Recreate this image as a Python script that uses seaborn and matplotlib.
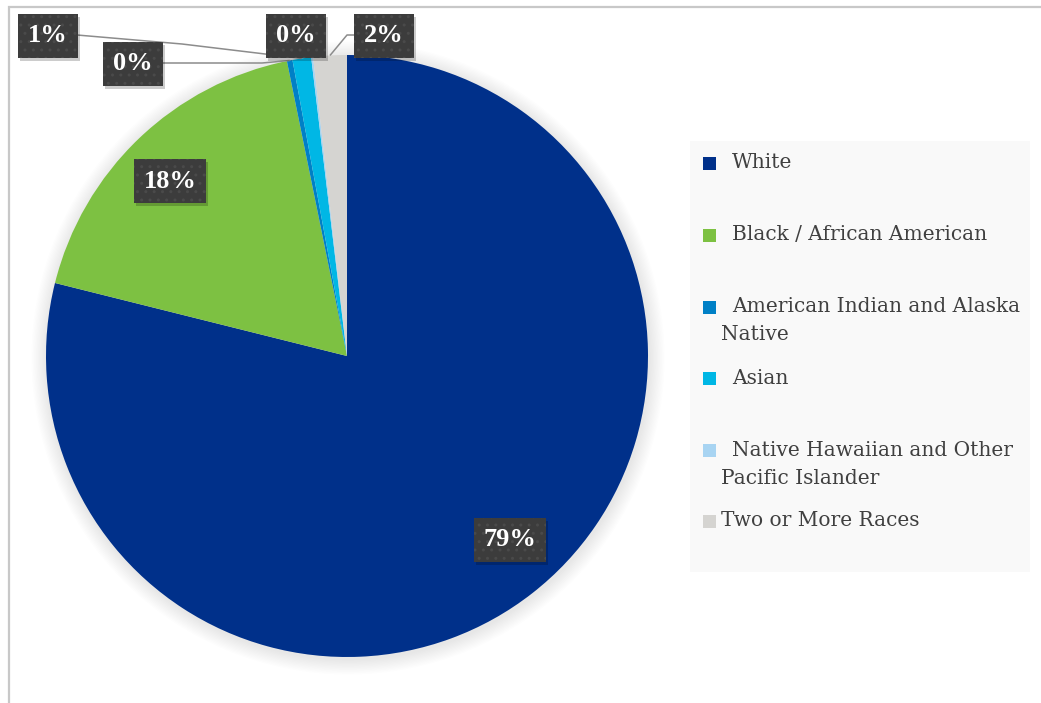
import matplotlib
matplotlib.use("Agg")
import matplotlib.pyplot as plt
import matplotlib.patches as mpatches
import numpy as np
import seaborn as sns

# Population share by race (percent)
categories = [
    "White",
    "Black / African American",
    "American Indian and Alaska\nNative",
    "Asian",
    "Native Hawaiian and Other\nPacific Islander",
    "Two or More Races",
]
shares = [78.9, 17.9, 0.3, 1.0, 0.1, 1.8]
slice_colors = ["#00308A", "#7DC142", "#0080C6", "#00B7E5", "#A8D4F2", "#D5D4D1"]
label_texts = ["79%", "18%", "0%", "1%", "0%", "2%"]

sns.set_theme(style="white")
plt.rcParams["font.family"] = ["DejaVu Serif"]

W, H = 1041, 703
fig = plt.figure(figsize=(W / 100, H / 100), dpi=100)
fig.patch.set_facecolor("white")
ax = fig.add_axes([0, 0, 1, 1])


def py(y):
    """Convert a top-down pixel row into axes data units."""
    return H - y


cx, cy, R = 347, py(356), 301

wedges, _ = ax.pie(shares, colors=slice_colors, startangle=90, counterclock=False,
                   center=(cx, cy), radius=R, wedgeprops=dict(linewidth=0))
for w in wedges:
    w.set_zorder(2)

ax.set_xlim(0, W)
ax.set_ylim(0, H)
ax.set_aspect("equal")
ax.axis("off")

# chart frame (top and left edges visible)
ax.add_patch(mpatches.Rectangle((9, -20), W + 40, py(7) + 20, fill=False,
                                edgecolor="#c8c8c8", linewidth=1.6, zorder=0))

# soft glow around the pie
for k in range(12, 0, -1):
    ax.add_patch(mpatches.Circle((cx + 1, cy - 2), R + k * 1.3, facecolor="#000000",
                                 edgecolor="none", alpha=0.009, zorder=1))

box_style = dict(boxstyle="square,pad=0.38", facecolor="#3C3C3C", edgecolor="#4A4A4A",
                 linewidth=0, hatch="..")
label_kw = dict(fontsize=19, fontweight="bold", ha="center", va="center",
                family=["Liberation Serif", "DejaVu Serif"])


def edge_point(wedge, frac=1.0):
    ang = np.deg2rad((wedge.theta1 + wedge.theta2) / 2)
    return cx + frac * R * np.cos(ang), cy + frac * R * np.sin(ang)


# label anchor positions (pixel rows from the top)
label_pos = [(510, 540), (170, 181), (133, 64), (48, 36), (296, 36), (384, 36)]

value_labels = []
for w, txt, (lx, ly) in zip(wedges, label_texts, label_pos):
    value_labels.append(ax.text(lx, py(ly), txt, color="white", bbox=box_style, zorder=6,
                                **label_kw))

# drop shadow under each value box (axes units equal pixels here)
fig.canvas.draw()
inv = ax.transData.inverted()
for t in value_labels:
    ext = t.get_bbox_patch().get_window_extent()
    (x0b, y0b), (x1b, y1b) = inv.transform([[ext.x0, ext.y0], [ext.x1, ext.y1]])
    ax.add_patch(mpatches.Rectangle((x0b + 2, y0b - 3), x1b - x0b, y1b - y0b,
                                    facecolor="#000000", edgecolor="none", alpha=0.2,
                                    zorder=5))

# leader lines for the thin slices
line_kw = dict(color="#8C8C8C", linewidth=1.1, zorder=4, solid_capstyle="butt")
# American Indian and Alaska Native
x0, y0 = edge_point(wedges[2])
ax.plot([163, 262, x0], [py(63), py(63), y0], **line_kw)
# Asian
x0, y0 = edge_point(wedges[3])
ax.plot([77, 182, x0], [py(35), py(44), y0], **line_kw)
# Native Hawaiian and Other Pacific Islander
x0, y0 = edge_point(wedges[4])
ax.plot([310, x0], [py(56), y0], **line_kw)
# Two or More Races
x0, y0 = edge_point(wedges[5])
ax.plot([355, 347, x0], [py(35), py(35), y0], **line_kw)

# legend panel
ax.add_patch(mpatches.Rectangle((690, py(572)), 340, 572 - 141, facecolor="#F9F9F9",
                                edgecolor="none", zorder=3))
row_y = [163, 235, 307, 378, 450, 521]
for name, col, ry in zip(categories, slice_colors, row_y):
    ax.add_patch(mpatches.Rectangle((703, py(ry) - 6.5), 13, 13, facecolor=col,
                                    edgecolor="none", zorder=4))
    lines = name.split("\n")
    first_x = 721 if name.startswith("Two") else 732
    ax.text(first_x, py(ry), lines[0], fontsize=14.5, color="#404040", va="center",
            ha="left", zorder=4)
    for j, extra in enumerate(lines[1:], start=1):
        ax.text(721, py(ry + 28 * j), extra, fontsize=14.5, color="#404040", va="center",
                ha="left", zorder=4)

fig.savefig("out.png", dpi=100, facecolor="white")
